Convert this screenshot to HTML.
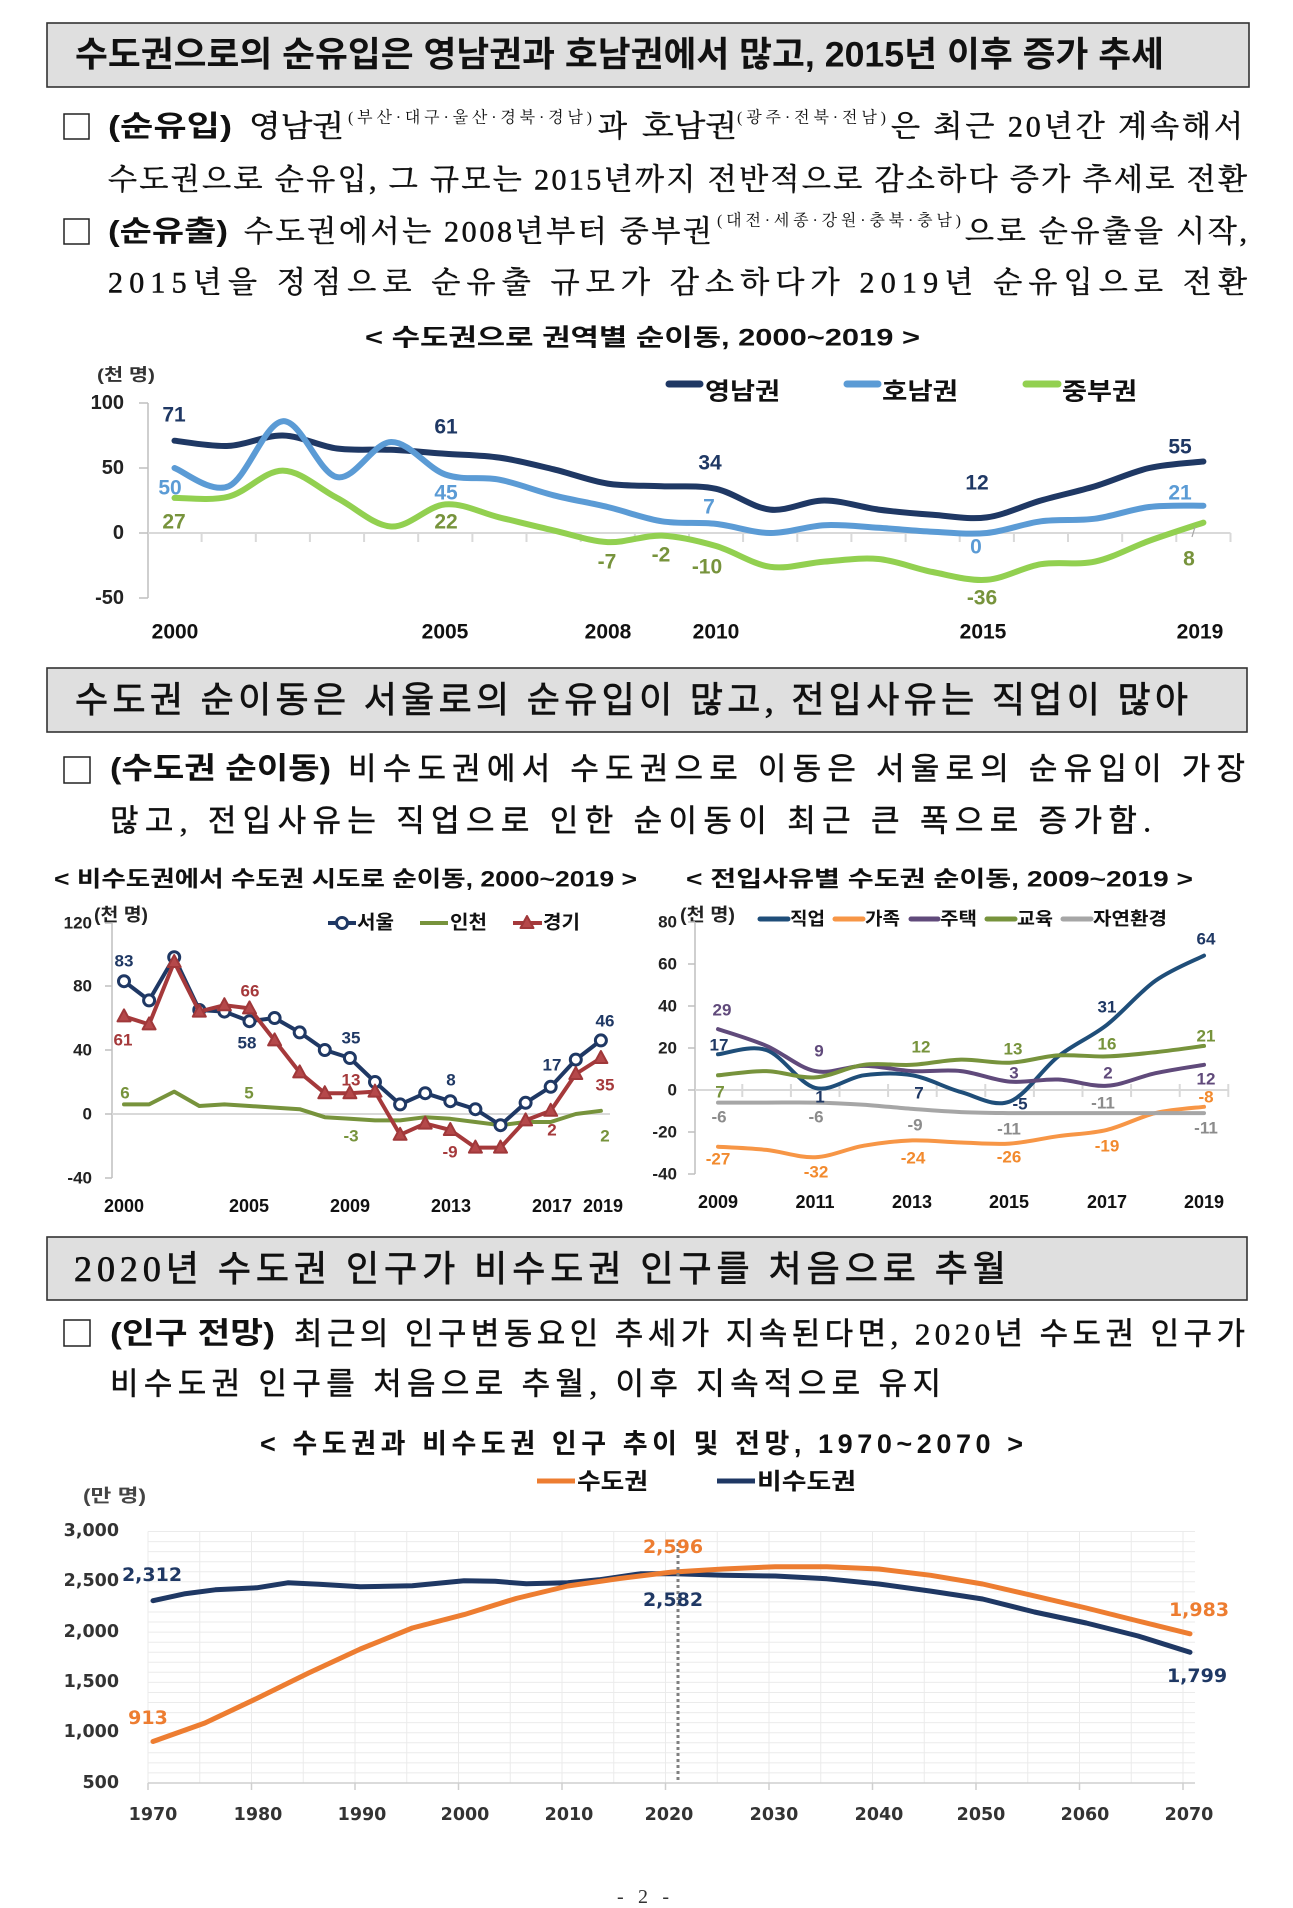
<!DOCTYPE html>
<html><head><meta charset="utf-8"><style>
html,body{margin:0;padding:0;background:#fff;}
svg{display:block}
text{dominant-baseline:central;}
.kb{font-family:"Liberation Sans","Noto Sans CJK KR",sans-serif;font-weight:700}
.kr{font-family:"Liberation Serif","Noto Sans CJK KR",sans-serif;font-weight:400}
.sr{font-family:"Liberation Serif","Noto Serif CJK SC",serif;font-weight:400}
.dv{font-family:"DejaVu Sans","Noto Sans CJK KR",sans-serif;font-weight:700}
.nv{fill:#1f3864}.bl{fill:#5b9bd5}.gr{fill:#77933c}.rd{fill:#a5393b}.pu{fill:#604a7b}.gy{fill:#8c8c8c}.or{fill:#f28a2e}.o3{fill:#ed7d31}
.st{stroke:#111;stroke-width:0.5}
.st2{stroke:#111;stroke-width:0.7}
</style></head><body>
<svg width="1293" height="1908" viewBox="0 0 1293 1908" xmlns="http://www.w3.org/2000/svg">
<defs><polygon id="tri" points="0,-7 6.5,5 -6.5,5" fill="#b5484a" stroke="#a0383a" stroke-width="2" stroke-linejoin="round"/></defs>
<rect width="1293" height="1908" fill="#fff"/>

<!-- ===== Section 1 ===== -->
<rect x="47" y="23" width="1202" height="64" fill="#dfdfdf" stroke="#333" stroke-width="1.6"/>
<text class="kb" x="75" y="55" font-size="35" fill="#111" textLength="1089" lengthAdjust="spacingAndGlyphs">수도권으로의 순유입은 영남권과 호남권에서 많고, 2015년 이후 증가 추세</text>

<rect x="64" y="114" width="25" height="25" fill="none" stroke="#222" stroke-width="1.5"/>
<text class="kb" x="108" y="127" font-size="29" fill="#111" textLength="124" lengthAdjust="spacingAndGlyphs">(순유입)</text>
<text class="sr st" x="249" y="127" font-size="30" fill="#111" textLength="95" lengthAdjust="spacingAndGlyphs">영남권</text>
<text class="sr" x="348" y="118" font-size="16" fill="#111" textLength="244" lengthAdjust="spacing">(부산·대구·울산·경북·경남)</text>
<text class="sr st" x="598" y="127" font-size="30" fill="#111">과</text>
<text class="sr st" x="642" y="127" font-size="30" fill="#111" textLength="95" lengthAdjust="spacingAndGlyphs">호남권</text>
<text class="sr" x="737" y="118" font-size="16" fill="#111" textLength="149" lengthAdjust="spacing">(광주·전북·전남)</text>
<text class="sr st" x="891" y="127" font-size="30" fill="#111" textLength="352" lengthAdjust="spacing">은 최근 20년간 계속해서</text>
<text class="sr st" x="108" y="180" font-size="30" fill="#111" textLength="1139" lengthAdjust="spacing">수도권으로 순유입, 그 규모는 2015년까지 전반적으로 감소하다 증가 추세로 전환</text>
<rect x="64" y="219" width="25" height="25" fill="none" stroke="#222" stroke-width="1.5"/>
<text class="kb" x="108" y="232" font-size="29" fill="#111" textLength="120" lengthAdjust="spacingAndGlyphs">(순유출)</text>
<text class="sr st" x="244" y="232" font-size="30" fill="#111" textLength="468" lengthAdjust="spacing">수도권에서는 2008년부터 중부권</text>
<text class="sr" x="717" y="221" font-size="16" fill="#111" textLength="244" lengthAdjust="spacing">(대전·세종·강원·충북·충남)</text>
<text class="sr st" x="965" y="232" font-size="30" fill="#111" textLength="282" lengthAdjust="spacing">으로 순유출을 시작,</text>
<text class="sr st" x="108" y="283" font-size="30" fill="#111" textLength="1139" lengthAdjust="spacing">2015년을 정점으로 순유출 규모가 감소하다가 2019년 순유입으로 전환</text>

<!-- Chart 1 -->
<text class="kb" x="365" y="338" font-size="24" fill="#111" textLength="555" lengthAdjust="spacingAndGlyphs">&lt; 수도권으로 권역별 순이동, 2000~2019 &gt;</text>
<text class="kb" x="97" y="375" font-size="17" fill="#333" textLength="58" lengthAdjust="spacingAndGlyphs">(천 명)</text>
<g class="kb" font-size="20" fill="#222" text-anchor="end">
<text x="124" y="403">100</text><text x="124" y="468">50</text><text x="124" y="533">0</text><text x="124" y="598">-50</text>
</g>
<path d="M148,403V598 M139,403H148 M139,468H148 M139,533H148 M139,598H148" stroke="#bfbfbf" stroke-width="1.5" fill="none"/>
<path d="M148,533H1230.5 M201.6,533v9 M255.8,533v9 M309.9,533v9 M364.1,533v9 M418.2,533v9 M472.4,533v9 M526.5,533v9 M580.7,533v9 M634.8,533v9 M689,533v9 M743.1,533v9 M797.3,533v9 M851.4,533v9 M905.6,533v9 M959.7,533v9 M1013.9,533v9 M1068,533v9 M1122.2,533v9 M1176.3,533v9 M1230.5,533v9" stroke="#d9d9d9" stroke-width="2" fill="none"/>
<polyline class="s" points="174.5,440.7 228.7,445.9 282.8,435.5 337,448.5 391.1,449.8 445.3,453.7 499.4,457.6 553.6,469.3 607.7,483.6 661.9,486.2 716,488.8 770.2,509.6 824.3,500.5 878.5,509.6 932.6,514.8 986.8,517.4 1040.9,500.5 1095.1,486.2 1149.2,468 1203.4,461.5" fill="none" stroke="#1f3864" stroke-width="6" stroke-linecap="round" stroke-linejoin="round"/>
<polyline class="s" points="174.5,497.9 228.7,496.6 282.8,470.6 337,497.9 391.1,526.5 445.3,504.4 499.4,517.4 553.6,530.4 607.7,542.1 661.9,535.6 716,546 770.2,566.8 824.3,561.6 878.5,559 932.6,572 986.8,579.8 1040.9,564.2 1095.1,561.6 1149.2,540.8 1203.4,522.6" fill="none" stroke="#92d050" stroke-width="6" stroke-linecap="round" stroke-linejoin="round"/>
<polyline class="s" points="174.5,468 228.7,486.2 282.8,421.2 337,477.1 391.1,442 445.3,474.5 499.4,479.7 553.6,495.3 607.7,507 661.9,521.3 716,523.9 770.2,533 824.3,525.2 878.5,527.8 932.6,531.7 986.8,533 1040.9,521.3 1095.1,518.7 1149.2,507 1203.4,505.7" fill="none" stroke="#5b9bd5" stroke-width="6" stroke-linecap="round" stroke-linejoin="round"/>
<path d="M1195,527L1192,537" stroke="#a6a6a6" stroke-width="1.2"/>
<g class="kb" font-size="21" text-anchor="middle">
<text class="nv" x="174" y="415">71</text><text class="nv" x="446" y="427">61</text><text class="nv" x="710" y="463">34</text><text class="nv" x="977" y="483">12</text><text class="nv" x="1180" y="447">55</text>
<text class="bl" x="170" y="488">50</text><text class="bl" x="446" y="493">45</text><text class="bl" x="709" y="507">7</text><text class="bl" x="976" y="547">0</text><text class="bl" x="1180" y="493">21</text>
<text class="gr" x="174" y="522">27</text><text class="gr" x="446" y="522">22</text><text class="gr" x="607" y="562">-7</text><text class="gr" x="661" y="555">-2</text><text class="gr" x="707" y="567">-10</text><text class="gr" x="982" y="598">-36</text><text class="gr" x="1189" y="559">8</text>
</g>
<g class="kb" font-size="21" fill="#111" text-anchor="middle">
<text x="175" y="632">2000</text><text x="445" y="632">2005</text><text x="608" y="632">2008</text><text x="716" y="632">2010</text><text x="983" y="632">2015</text><text x="1200" y="632">2019</text>
</g>
<path d="M669,384H700" stroke="#1f3864" stroke-width="7" stroke-linecap="round"/>
<path d="M847,384H878" stroke="#5b9bd5" stroke-width="7" stroke-linecap="round"/>
<path d="M1026,384H1058" stroke="#92d050" stroke-width="7" stroke-linecap="round"/>
<g class="kb" font-size="24" fill="#111">
<text x="705" y="392" textLength="75" lengthAdjust="spacingAndGlyphs">영남권</text>
<text x="882" y="392" textLength="76" lengthAdjust="spacingAndGlyphs">호남권</text>
<text x="1062" y="392" textLength="75" lengthAdjust="spacingAndGlyphs">중부권</text>
</g>

<!-- ===== Section 2 ===== -->
<rect x="47" y="668" width="1200" height="64" fill="#dfdfdf" stroke="#333" stroke-width="1.6"/>
<text class="kr st2" x="75" y="700" font-size="36" fill="#111" textLength="1113" lengthAdjust="spacing">수도권 순이동은 서울로의 순유입이 많고, 전입사유는 직업이 많아</text>
<rect x="64" y="757" width="26" height="26" fill="none" stroke="#222" stroke-width="1.5"/>
<text class="kb" x="110" y="769" font-size="30" fill="#111" textLength="221" lengthAdjust="spacingAndGlyphs">(수도권 순이동)</text>
<text class="kr st" x="348" y="769" font-size="31" fill="#111" textLength="897" lengthAdjust="spacing">비수도권에서 수도권으로 이동은 서울로의 순유입이 가장</text>
<text class="kr st" x="110" y="821" font-size="31" fill="#111" textLength="1041" lengthAdjust="spacing">많고, 전입사유는 직업으로 인한 순이동이 최근 큰 폭으로 증가함.</text>

<text class="kb" x="54" y="879" font-size="22" fill="#111" textLength="583" lengthAdjust="spacingAndGlyphs">&lt; 비수도권에서 수도권 시도로 순이동, 2000~2019 &gt;</text>
<text class="kb" x="686" y="879" font-size="22" fill="#111" textLength="507" lengthAdjust="spacingAndGlyphs">&lt; 전입사유별 수도권 순이동, 2009~2019 &gt;</text>

<!-- Chart 2a -->
<text class="kb" x="94" y="915" font-size="18" fill="#222" textLength="54" lengthAdjust="spacingAndGlyphs">(천 명)</text>
<g class="kb" font-size="17" fill="#222" text-anchor="end">
<text x="92" y="923">120</text><text x="92" y="986">80</text><text x="92" y="1050">40</text><text x="92" y="1114">0</text><text x="92" y="1178">-40</text>
</g>
<path d="M112,923V1178 M105,923H112 M105,986H112 M105,1050H112 M105,1114H112 M105,1178H112" stroke="#bfbfbf" stroke-width="1.5" fill="none"/>
<path d="M112,1114H610" stroke="#d9d9d9" stroke-width="2"/>
<polyline points="124,1104.4 149.1,1104.4 174.2,1091.6 199.3,1106 224.4,1104.4 249.5,1106 274.6,1107.6 299.7,1109.2 324.8,1117.2 349.9,1118.8 375,1120.4 400.1,1120.4 425.2,1117.2 450.3,1118.8 475.4,1122 500.5,1125.2 525.6,1122 550.7,1122 575.8,1114 600.9,1110.8" fill="none" stroke="#77933c" stroke-width="4" stroke-linejoin="round" stroke-linecap="round"/>
<polyline points="124,981.2 149.1,1000.4 174.2,957.2 199.3,1010 224.4,1011.6 249.5,1021.2 274.6,1018 299.7,1032.4 324.8,1050 349.9,1058 375,1082 400.1,1104.4 425.2,1093.2 450.3,1101.2 475.4,1109.2 500.5,1125.2 525.6,1102.8 550.7,1086.8 575.8,1059.6 600.9,1040.4" fill="none" stroke="#1f3864" stroke-width="4" stroke-linejoin="round"/>
<g fill="#fff" stroke="#1f3864" stroke-width="3">
<circle cx="124" cy="981.2" r="5.5"/><circle cx="149.1" cy="1000.4" r="5.5"/><circle cx="174.2" cy="957.2" r="5.5"/><circle cx="199.3" cy="1010" r="5.5"/><circle cx="224.4" cy="1011.6" r="5.5"/><circle cx="249.5" cy="1021.2" r="5.5"/><circle cx="274.6" cy="1018" r="5.5"/><circle cx="299.7" cy="1032.4" r="5.5"/><circle cx="324.8" cy="1050" r="5.5"/><circle cx="349.9" cy="1058" r="5.5"/><circle cx="375" cy="1082" r="5.5"/><circle cx="400.1" cy="1104.4" r="5.5"/><circle cx="425.2" cy="1093.2" r="5.5"/><circle cx="450.3" cy="1101.2" r="5.5"/><circle cx="475.4" cy="1109.2" r="5.5"/><circle cx="500.5" cy="1125.2" r="5.5"/><circle cx="525.6" cy="1102.8" r="5.5"/><circle cx="550.7" cy="1086.8" r="5.5"/><circle cx="575.8" cy="1059.6" r="5.5"/><circle cx="600.9" cy="1040.4" r="5.5"/>
</g>
<polyline points="124,1016.4 149.1,1024.4 174.2,962 199.3,1011.6 224.4,1005.2 249.5,1008.4 274.6,1040.4 299.7,1072.4 324.8,1093.2 349.9,1093.2 375,1091.6 400.1,1134.8 425.2,1123.6 450.3,1130 475.4,1147.6 500.5,1147.6 525.6,1120.4 550.7,1110.8 575.8,1074 600.9,1058" fill="none" stroke="#a5393b" stroke-width="4" stroke-linejoin="round"/>
<use href="#tri" x="124" y="1016.4"/><use href="#tri" x="149.1" y="1024.4"/><use href="#tri" x="174.2" y="962"/><use href="#tri" x="199.3" y="1011.6"/><use href="#tri" x="224.4" y="1005.2"/><use href="#tri" x="249.5" y="1008.4"/><use href="#tri" x="274.6" y="1040.4"/><use href="#tri" x="299.7" y="1072.4"/><use href="#tri" x="324.8" y="1093.2"/><use href="#tri" x="349.9" y="1093.2"/><use href="#tri" x="375" y="1091.6"/><use href="#tri" x="400.1" y="1134.8"/><use href="#tri" x="425.2" y="1123.6"/><use href="#tri" x="450.3" y="1130"/><use href="#tri" x="475.4" y="1147.6"/><use href="#tri" x="500.5" y="1147.6"/><use href="#tri" x="525.6" y="1120.4"/><use href="#tri" x="550.7" y="1110.8"/><use href="#tri" x="575.8" y="1074"/><use href="#tri" x="600.9" y="1058"/>
<g class="kb" font-size="17" text-anchor="middle">
<text class="nv" x="124" y="961">83</text><text class="nv" x="247" y="1043">58</text><text class="nv" x="351" y="1038">35</text><text class="nv" x="451" y="1080">8</text><text class="nv" x="552" y="1065">17</text><text class="nv" x="605" y="1021">46</text>
<text class="rd" x="123" y="1040">61</text><text class="rd" x="250" y="991">66</text><text class="rd" x="351" y="1080">13</text><text class="rd" x="450" y="1152">-9</text><text class="rd" x="552" y="1130">2</text><text class="rd" x="605" y="1085">35</text>
<text class="gr" x="125" y="1093">6</text><text class="gr" x="249" y="1093">5</text><text class="gr" x="351" y="1136">-3</text><text class="gr" x="605" y="1136">2</text>
</g>
<g class="kb" font-size="18" fill="#111" text-anchor="middle">
<text x="124" y="1206">2000</text><text x="249" y="1206">2005</text><text x="350" y="1206">2009</text><text x="451" y="1206">2013</text><text x="552" y="1206">2017</text><text x="603" y="1206">2019</text>
</g>
<path d="M328,923H356" stroke="#1f3864" stroke-width="4"/><circle cx="342" cy="923" r="5.5" fill="#fff" stroke="#1f3864" stroke-width="3"/>
<path d="M420,923H448" stroke="#77933c" stroke-width="4"/>
<path d="M513,923H542" stroke="#a5393b" stroke-width="4"/><use href="#tri" x="527" y="923"/>
<g class="kb" font-size="19" fill="#111">
<text x="357" y="923" textLength="37" lengthAdjust="spacingAndGlyphs">서울</text>
<text x="450" y="923" textLength="37" lengthAdjust="spacingAndGlyphs">인천</text>
<text x="543" y="923" textLength="37" lengthAdjust="spacingAndGlyphs">경기</text>
</g>

<!-- Chart 2b -->
<text class="kb" x="680" y="915" font-size="18" fill="#222" textLength="55" lengthAdjust="spacingAndGlyphs">(천 명)</text>
<g class="kb" font-size="17" fill="#222" text-anchor="end">
<text x="677" y="922">80</text><text x="677" y="964">60</text><text x="677" y="1006">40</text><text x="677" y="1048">20</text><text x="677" y="1090">0</text><text x="677" y="1132">-20</text><text x="677" y="1174">-40</text>
</g>
<path d="M695,922V1174 M688,922H695 M688,964H695 M688,1006H695 M688,1048H695 M688,1090H695 M688,1132H695 M688,1174H695" stroke="#bfbfbf" stroke-width="1.5" fill="none"/>
<path d="M695,1090H1229 M742.3,1084v13 M790.9,1084v13 M839.5,1084v13 M888.1,1084v13 M936.7,1084v13 M985.3,1084v13 M1033.9,1084v13 M1082.5,1084v13 M1131.1,1084v13 M1179.7,1084v13 M1228.3,1084v13" stroke="#d9d9d9" stroke-width="2" fill="none"/>
<polyline class="s" points="718,1054.3 766.6,1050.1 815.2,1087.9 863.8,1075.3 912.4,1075.3 961,1092.1 1009.6,1101.6 1058.2,1056.4 1106.8,1024.9 1155.4,980.8 1204,955.6" fill="none" stroke="#1f4e79" stroke-width="4" stroke-linecap="round"/>
<polyline class="s" points="718,1146.7 766.6,1149.9 815.2,1157.2 863.8,1145.7 912.4,1140.4 961,1142.5 1009.6,1143.6 1058.2,1136.2 1106.8,1129.9 1155.4,1113.1 1204,1106.8" fill="none" stroke="#f79646" stroke-width="4" stroke-linecap="round"/>
<polyline class="s" points="718,1029.1 766.6,1045.9 815.2,1071.1 863.8,1065.9 912.4,1071.1 961,1071.1 1009.6,1081.6 1058.2,1079.5 1106.8,1085.8 1155.4,1073.2 1204,1064.8" fill="none" stroke="#604a7b" stroke-width="4" stroke-linecap="round"/>
<polyline class="s" points="718,1075.3 766.6,1071.1 815.2,1077.4 863.8,1064.8 912.4,1064.8 961,1059.6 1009.6,1062.7 1058.2,1055.4 1106.8,1056.4 1155.4,1052.2 1204,1045.9" fill="none" stroke="#77933c" stroke-width="4" stroke-linecap="round"/>
<polyline class="s" points="718,1102.6 766.6,1102.6 815.2,1102.6 863.8,1104.7 912.4,1108.9 961,1112.1 1009.6,1113.1 1058.2,1113.1 1106.8,1113.1 1155.4,1113.1 1204,1113.1" fill="none" stroke="#a6a6a6" stroke-width="4" stroke-linecap="round"/>
<g class="kb" font-size="17" text-anchor="middle">
<text class="nv" x="719" y="1045">17</text><text class="nv" x="820" y="1097">1</text><text class="nv" x="919" y="1093">7</text><text class="nv" x="1020" y="1104">-5</text><text class="nv" x="1107" y="1007">31</text><text class="nv" x="1206" y="939">64</text>
<text class="pu" x="722" y="1010">29</text><text class="pu" x="819" y="1051">9</text><text class="pu" x="1014" y="1073">3</text><text class="pu" x="1108" y="1073">2</text><text class="pu" x="1206" y="1079">12</text>
<text class="gr" x="720" y="1092">7</text><text class="gr" x="921" y="1047">12</text><text class="gr" x="1013" y="1049">13</text><text class="gr" x="1107" y="1044">16</text><text class="gr" x="1206" y="1036">21</text>
<text class="gy" x="719" y="1117">-6</text><text class="gy" x="816" y="1117">-6</text><text class="gy" x="915" y="1125">-9</text><text class="gy" x="1009" y="1129">-11</text><text class="gy" x="1103" y="1103">-11</text><text class="gy" x="1206" y="1128">-11</text>
<text class="or" x="718" y="1159">-27</text><text class="or" x="816" y="1172">-32</text><text class="or" x="913" y="1158">-24</text><text class="or" x="1009" y="1157">-26</text><text class="or" x="1107" y="1146">-19</text><text class="or" x="1206" y="1097">-8</text>
</g>
<g class="kb" font-size="18" fill="#111" text-anchor="middle">
<text x="718" y="1202">2009</text><text x="815" y="1202">2011</text><text x="912" y="1202">2013</text><text x="1009" y="1202">2015</text><text x="1107" y="1202">2017</text><text x="1204" y="1202">2019</text>
</g>
<path d="M760,919H788" stroke="#1f4e79" stroke-width="5" stroke-linecap="round"/>
<path d="M835,919H863" stroke="#f79646" stroke-width="5" stroke-linecap="round"/>
<path d="M911,919H938" stroke="#604a7b" stroke-width="5" stroke-linecap="round"/>
<path d="M987,919H1015" stroke="#77933c" stroke-width="5" stroke-linecap="round"/>
<path d="M1063,919H1091" stroke="#a6a6a6" stroke-width="5" stroke-linecap="round"/>
<g class="kb" font-size="18" fill="#111">
<text x="790" y="919" textLength="35" lengthAdjust="spacingAndGlyphs">직업</text>
<text x="865" y="919" textLength="35" lengthAdjust="spacingAndGlyphs">가족</text>
<text x="940" y="919" textLength="37" lengthAdjust="spacingAndGlyphs">주택</text>
<text x="1017" y="919" textLength="36" lengthAdjust="spacingAndGlyphs">교육</text>
<text x="1093" y="919" textLength="74" lengthAdjust="spacingAndGlyphs">자연환경</text>
</g>

<!-- ===== Section 3 ===== -->
<rect x="47" y="1237" width="1200" height="63" fill="#dfdfdf" stroke="#333" stroke-width="1.6"/>
<text class="kr st2" x="74" y="1269" font-size="36" fill="#111" textLength="932" lengthAdjust="spacing">2020년 수도권 인구가 비수도권 인구를 처음으로 추월</text>
<rect x="64" y="1320" width="26" height="26" fill="none" stroke="#222" stroke-width="1.5"/>
<text class="kb" x="110" y="1334" font-size="30" fill="#111" textLength="165" lengthAdjust="spacingAndGlyphs">(인구 전망)</text>
<text class="kr st" x="294" y="1334" font-size="31" fill="#111" textLength="951" lengthAdjust="spacing">최근의 인구변동요인 추세가 지속된다면, 2020년 수도권 인구가</text>
<text class="kr st" x="110" y="1384" font-size="31" fill="#111" textLength="831" lengthAdjust="spacing">비수도권 인구를 처음으로 추월, 이후 지속적으로 유지</text>

<text class="kb" x="260" y="1444" font-size="27" fill="#111" textLength="763" lengthAdjust="spacing">&lt; 수도권과 비수도권 인구 추이 및 전망, 1970~2070 &gt;</text>
<path d="M537,1481H575" stroke="#ed7d31" stroke-width="5"/>
<path d="M717,1481H755" stroke="#1f3864" stroke-width="5"/>
<g class="kb" font-size="23" fill="#111">
<text x="577" y="1481" textLength="71" lengthAdjust="spacingAndGlyphs">수도권</text>
<text x="757" y="1481" textLength="99" lengthAdjust="spacingAndGlyphs">비수도권</text>
</g>
<text class="kb" x="83" y="1496" font-size="18" fill="#444" textLength="63" lengthAdjust="spacingAndGlyphs">(만 명)</text>
<path d="M148,1772.9H1195 M148,1762.9H1195 M148,1752.8H1195 M148,1742.8H1195 M148,1732.7H1195 M148,1722.6H1195 M148,1712.6H1195 M148,1702.5H1195 M148,1692.5H1195 M148,1682.4H1195 M148,1672.3H1195 M148,1662.3H1195 M148,1652.2H1195 M148,1642.2H1195 M148,1632.1H1195 M148,1622H1195 M148,1612H1195 M148,1601.9H1195 M148,1591.9H1195 M148,1581.8H1195 M148,1571.7H1195 M148,1561.7H1195 M148,1551.6H1195 M148,1541.6H1195 M148,1531.5H1195 M148,1531.5V1783 M199.75,1531.5V1783 M251.5,1531.5V1783 M303.25,1531.5V1783 M355,1531.5V1783 M406.75,1531.5V1783 M458.5,1531.5V1783 M510.25,1531.5V1783 M562,1531.5V1783 M613.75,1531.5V1783 M665.5,1531.5V1783 M717.25,1531.5V1783 M769,1531.5V1783 M820.75,1531.5V1783 M872.5,1531.5V1783 M924.25,1531.5V1783 M976,1531.5V1783 M1027.75,1531.5V1783 M1079.5,1531.5V1783 M1131.25,1531.5V1783 M1183,1531.5V1783" stroke="#ebebeb" stroke-width="1" fill="none"/>
<path d="M148,1783H1195 M148,1783v7 M251.5,1783v7 M355,1783v7 M458.5,1783v7 M562,1783v7 M665.5,1783v7 M769,1783v7 M872.5,1783v7 M976,1783v7 M1079.5,1783v7 M1183,1783v7" stroke="#cfcfcf" stroke-width="1.5" fill="none"/>
<g class="dv" font-size="17.5" fill="#333" text-anchor="end">
<text x="119" y="1531">3,000</text><text x="119" y="1581">2,500</text><text x="119" y="1632">2,000</text><text x="119" y="1682">1,500</text><text x="119" y="1732">1,000</text><text x="119" y="1783">500</text>
</g>
<g class="dv" font-size="17.5" fill="#333" text-anchor="middle">
<text x="153" y="1815">1970</text><text x="258" y="1815">1980</text><text x="362" y="1815">1990</text><text x="465" y="1815">2000</text><text x="569" y="1815">2010</text><text x="669" y="1815">2020</text><text x="774" y="1815">2030</text><text x="879" y="1815">2040</text><text x="981" y="1815">2050</text><text x="1085" y="1815">2060</text><text x="1189" y="1815">2070</text>
</g>
<polyline points="153,1600.7 184.1,1593.9 215.2,1589.8 256.7,1587.8 287.8,1582.8 318.9,1584.3 360.4,1586.8 412.3,1585.8 464.1,1580.8 495.2,1581.3 526.3,1583.8 567.8,1582.8 598.9,1579.8 640.4,1573.8 671.5,1573.6 723.4,1575.3 775.2,1576 827,1578.8 878.9,1584 930.7,1591.1 982.6,1599 1034.4,1612 1086.2,1623 1138.1,1636 1190,1652.3" fill="none" stroke="#1f3864" stroke-width="5" stroke-linejoin="round" stroke-linecap="round"/>
<polyline points="153,1741.5 204.9,1723 256.7,1698.5 308.6,1673 360.4,1649 412.3,1628 464.1,1614.6 516,1598.5 567.8,1586 619.6,1578.5 671.5,1572.1 723.4,1569 775.2,1566.7 827,1566.7 878.9,1569 930.7,1575.3 982.6,1584 1034.4,1595.9 1086.2,1608 1138.1,1621 1190,1633.8" fill="none" stroke="#ed7d31" stroke-width="5" stroke-linejoin="round" stroke-linecap="round"/>
<path d="M678,1543V1783" stroke="#808080" stroke-width="3" stroke-dasharray="3,3"/>
<g class="dv" font-size="19" text-anchor="middle">
<text class="o3" x="148" y="1718">913</text><text class="o3" x="673" y="1547">2,596</text><text class="o3" x="1199" y="1610">1,983</text>
<text class="nv" x="152" y="1575">2,312</text><text class="nv" x="673" y="1600">2,582</text><text class="nv" x="1197" y="1676">1,799</text>
</g>

<text class="kr" x="643" y="1897" font-size="20" fill="#333" text-anchor="middle" textLength="52" lengthAdjust="spacing">- 2 -</text>
</svg>
<script>
(function(){
var NS='http://www.w3.org/2000/svg';
var pls=document.querySelectorAll('polyline.s');
for(var k=0;k<pls.length;k++){
 var pl=pls[k];
 var pts=pl.getAttribute('points').trim().split(/\s+/).map(function(p){var a=p.split(',');return [parseFloat(a[0]),parseFloat(a[1])];});
 var d='M'+pts[0][0]+','+pts[0][1];
 for(var i=0;i<pts.length-1;i++){
  var p0=pts[i-1]||pts[i],p1=pts[i],p2=pts[i+1],p3=pts[i+2]||pts[i+1];
  var c1x=p1[0]+(p2[0]-p0[0])/6,c1y=p1[1]+(p2[1]-p0[1])/6;
  var c2x=p2[0]-(p3[0]-p1[0])/6,c2y=p2[1]-(p3[1]-p1[1])/6;
  d+=' C'+c1x.toFixed(1)+','+c1y.toFixed(1)+' '+c2x.toFixed(1)+','+c2y.toFixed(1)+' '+p2[0]+','+p2[1];
 }
 var path=document.createElementNS(NS,'path');
 for(var j=0;j<pl.attributes.length;j++){var at=pl.attributes[j];if(at.name!=='points'&&at.name!=='class')path.setAttribute(at.name,at.value);}
 path.setAttribute('d',d);
 pl.parentNode.replaceChild(path,pl);
}
})();
</script>
</body></html>
